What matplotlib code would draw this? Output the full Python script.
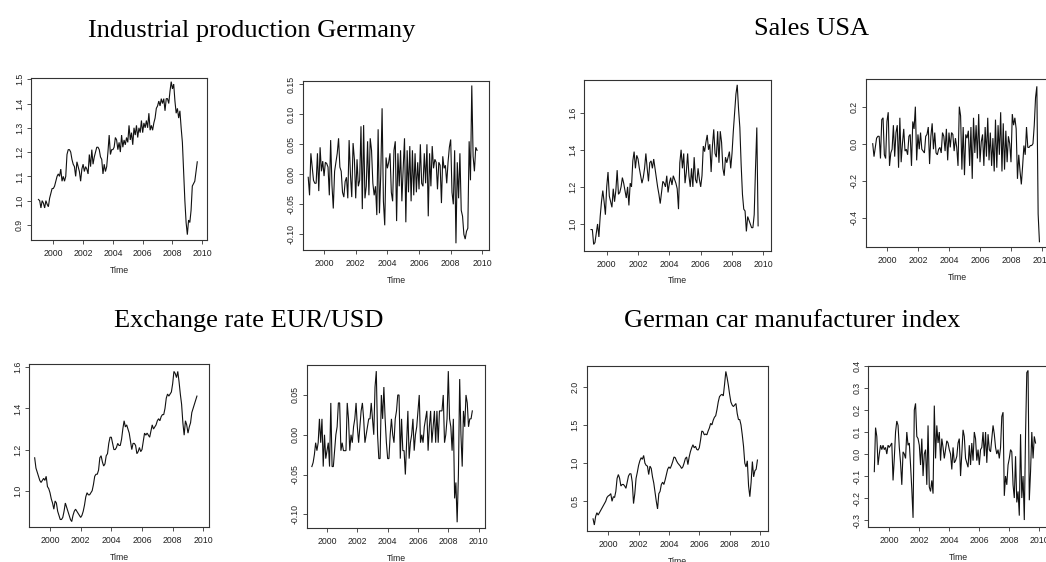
import numpy as np
import matplotlib
matplotlib.use("Agg")
import matplotlib.pyplot as plt

W, H = 1046, 562

# ---------------- data (monthly) ----------------
ip_start = 1999.0
ip_level = [
    1.005, 1.00, 0.97, 1.00, 0.99, 0.97, 1.00, 0.985, 0.975, 1.01, 1.03, 1.05,
    1.05, 1.06, 1.08, 1.10, 1.11, 1.10, 1.13, 1.08, 1.10, 1.08, 1.10, 1.19,
    1.21, 1.21, 1.20, 1.17, 1.15, 1.14, 1.10, 1.16, 1.14, 1.12, 1.08, 1.13,
    1.15, 1.12, 1.14, 1.13, 1.11, 1.19, 1.14, 1.21, 1.15, 1.18, 1.20, 1.22,
    1.22, 1.21, 1.18, 1.17, 1.11, 1.15, 1.12, 1.14, 1.20, 1.27, 1.19, 1.21,
    1.21, 1.22, 1.26, 1.25, 1.21, 1.24, 1.20, 1.27, 1.22, 1.25, 1.23, 1.26,
    1.24, 1.31, 1.25, 1.28, 1.23, 1.30, 1.27, 1.31, 1.26, 1.30, 1.28, 1.33,
    1.28, 1.32, 1.30, 1.33, 1.30, 1.36, 1.29, 1.31, 1.29, 1.32, 1.34, 1.38,
    1.39, 1.41, 1.39, 1.42, 1.40, 1.42, 1.37, 1.42, 1.42, 1.40, 1.45, 1.49,
    1.46, 1.48, 1.41, 1.36, 1.38, 1.34, 1.37, 1.30, 1.24, 1.12, 1.00, 0.91,
    0.86, 0.92, 0.91, 0.96, 1.06, 1.07, 1.08, 1.12, 1.16,
]
ip_diff_start = 1999.0
ip_diff = [
    -0.005, -0.035, 0.035, 0.012, -0.01, -0.015, -0.015, 0.035, -0.028, 0.045, 0.005, 0.022,
    -0.003, 0.02, 0.018, 0.012, -0.035, 0.057, -0.018, -0.057, 0.005, 0.02, 0.035, 0.06,
    0.012, 0.005, -0.03, -0.038, -0.012, -0.005, -0.04, 0.057, 0.0, -0.038, 0.052, 0.025,
    -0.04, 0.025, -0.02, -0.01, 0.08, -0.058, 0.082, -0.04, -0.02, 0.055, -0.035, 0.06,
    0.04, -0.015, -0.035, -0.02, -0.068, 0.075, -0.065, 0.0, 0.11, -0.045, -0.085, 0.028,
    0.01, 0.02, 0.035, -0.03, -0.045, 0.04, 0.055, -0.078, 0.035, -0.02, 0.04, -0.045,
    0.01, 0.06, -0.08, 0.04, -0.03, 0.047, -0.045, 0.04, -0.035, 0.035, -0.03, 0.02,
    -0.025, 0.05, -0.015, -0.02, 0.035, -0.015, 0.05, -0.07, 0.035, -0.02, 0.047, 0.01,
    0.025, 0.02, -0.025, 0.02, 0.015, -0.048, 0.03, 0.01, 0.015, -0.015, 0.02, 0.045,
    0.058, -0.03, -0.05, 0.04, -0.115, 0.02, -0.04, 0.035, -0.06, -0.07, -0.1, -0.108,
    -0.095, -0.09, 0.055, -0.01, 0.148, 0.03, 0.005, 0.045, 0.04,
]
sales_start = 1999.0
sales_level = [
    0.97, 0.97, 0.89, 0.90, 0.95, 1.00, 0.93, 1.04, 1.12, 1.18, 1.12, 1.05,
    1.20, 1.28, 1.15, 1.12, 1.09, 1.19, 1.12, 1.18, 1.29, 1.16, 1.17, 1.20,
    1.25, 1.22, 1.18, 1.14, 1.20, 1.10, 1.22, 1.20, 1.34, 1.39, 1.30, 1.37,
    1.35, 1.30, 1.26, 1.22, 1.25, 1.30, 1.38, 1.30, 1.23, 1.33, 1.34, 1.30,
    1.35, 1.30, 1.25, 1.20, 1.16, 1.11, 1.17, 1.23, 1.22, 1.20, 1.26, 1.17,
    1.22, 1.25, 1.21, 1.26, 1.24, 1.22, 1.19, 1.08, 1.33, 1.40, 1.30, 1.38,
    1.22, 1.28, 1.38, 1.26, 1.20, 1.30, 1.20, 1.36, 1.24, 1.22, 1.30, 1.24,
    1.20, 1.26, 1.42, 1.39, 1.44, 1.48, 1.40, 1.43, 1.28, 1.42, 1.51, 1.38,
    1.36, 1.50, 1.33, 1.50, 1.44, 1.30, 1.26, 1.36, 1.33, 1.36, 1.39, 1.30,
    1.38, 1.50, 1.60, 1.70, 1.75, 1.62, 1.52, 1.32, 1.16, 1.08, 1.07, 0.96,
    1.04, 1.02, 1.00, 0.98, 0.98, 1.05, 1.30, 1.52, 0.99,
]
sales_diff_start = 1999.083
sales_diff = [
    0.00, -0.07, -0.02, 0.03, 0.04, 0.04, -0.08, 0.13, 0.14, -0.06, -0.08, 0.12,
    0.17, -0.12, -0.05, -0.03, 0.10, -0.07, 0.06, 0.10, -0.13, 0.14, -0.10, 0.00,
    0.08, -0.04, -0.03, -0.06, 0.04, 0.05, -0.12, 0.12, 0.08, 0.20, -0.09, 0.05,
    -0.03, 0.06, -0.03, -0.04, -0.05, 0.04, 0.05, 0.09, -0.11, 0.04, 0.11, -0.03,
    0.06, -0.05, -0.06, -0.03, -0.02, -0.05, 0.06, 0.04, -0.04, 0.08, -0.09, 0.06,
    -0.02, 0.06, 0.05, -0.04, 0.03, -0.02, -0.12, 0.20, 0.15, -0.14, 0.09, -0.17,
    0.05, 0.03, 0.07, -0.12, 0.09, -0.19, 0.14, -0.05, 0.10, -0.08, 0.16, -0.10,
    0.01, 0.05, -0.12, 0.09, -0.07, 0.14, -0.09, 0.06, -0.12, 0.03, -0.15, 0.13,
    -0.13, 0.10, -0.06, 0.17, -0.15, 0.11, -0.14, 0.07, -0.10, 0.04, 0.00, -0.10,
    0.16, 0.10, 0.14, 0.08, -0.19, -0.06, -0.15, -0.22, -0.12, -0.01, -0.06, 0.09,
    -0.02, -0.02, -0.01, -0.01, 0.00, 0.10, 0.25, 0.31, -0.38, -0.53,
]
fx_start = 1999.0
fx_level = [
    1.16, 1.11, 1.09, 1.07, 1.05, 1.04, 1.05, 1.06, 1.05, 1.07, 1.02, 1.01,
    0.99, 0.96, 0.94, 0.91, 0.95, 0.94, 0.90, 0.88, 0.86, 0.86, 0.87, 0.90,
    0.94, 0.92, 0.90, 0.88, 0.86, 0.85, 0.88, 0.90, 0.91, 0.90, 0.89, 0.88,
    0.87, 0.88, 0.90, 0.93, 0.97, 0.99, 0.98, 0.98, 0.99, 1.00, 1.03, 1.07,
    1.08, 1.08, 1.10, 1.16, 1.17, 1.14, 1.12, 1.13, 1.17, 1.18, 1.23, 1.26,
    1.26, 1.23, 1.20, 1.20, 1.21, 1.23, 1.22, 1.22, 1.25, 1.30, 1.34, 1.31,
    1.32, 1.30, 1.28, 1.24, 1.20, 1.23, 1.23, 1.22, 1.18, 1.19, 1.21, 1.19,
    1.20, 1.24, 1.28, 1.27, 1.28, 1.27, 1.26, 1.29, 1.32, 1.30, 1.31, 1.32,
    1.34, 1.35, 1.34, 1.36, 1.37, 1.37, 1.40, 1.45, 1.47, 1.46, 1.47, 1.48,
    1.52, 1.58, 1.57, 1.55, 1.58, 1.53, 1.47, 1.42, 1.33, 1.27, 1.34, 1.32,
    1.28, 1.31, 1.33, 1.38, 1.40, 1.42, 1.44, 1.46,
]
fx_diff_start = 1999.0
fx_diff = [
    -0.04, -0.035, -0.025, -0.01, -0.02, -0.01, 0.02, -0.01, 0.02, -0.04, 0.0, -0.03,
    -0.02, -0.01, -0.04, 0.04, -0.04, -0.04, -0.02, 0.0, 0.01, 0.04, 0.04, -0.02,
    -0.01, -0.02, -0.02, -0.02, 0.04, 0.02, -0.02, 0.0, -0.01, 0.01, 0.02, 0.04,
    0.01, -0.01, 0.01, 0.03, 0.04, 0.02, -0.01, 0.0, 0.01, 0.02, 0.02, 0.04,
    0.02, 0.0, 0.06, 0.08, 0.0, -0.03, -0.03, 0.05, 0.02, 0.06, 0.02, -0.01,
    -0.03, -0.03, 0.0, 0.02, 0.0, -0.01, 0.02, 0.03, 0.05, 0.05, -0.03, 0.02,
    -0.02, -0.02, -0.05, -0.01, 0.03, -0.03, -0.01, 0.0, 0.02, -0.02, 0.0, 0.01,
    0.03, 0.05, -0.01, 0.0, -0.01, 0.01, 0.02, 0.03, -0.02, 0.01, 0.03, -0.01,
    0.01, 0.03, -0.01, 0.03, -0.01, 0.03, 0.03, 0.03, 0.05, -0.01, 0.0, 0.02,
    0.08, 0.02, 0.01, -0.02, 0.02, -0.08, -0.06, -0.11, -0.05, 0.07, 0.0, -0.04,
    0.03, 0.01, 0.05, 0.04, 0.01, 0.02, 0.02, 0.03,
]
car_start = 1999.0
car_level = [
    0.27, 0.19, 0.30, 0.35, 0.32, 0.35, 0.38, 0.41, 0.44, 0.47, 0.50, 0.55,
    0.57, 0.58, 0.60, 0.50, 0.56, 0.55, 0.63, 0.80, 0.85, 0.80, 0.70, 0.72,
    0.72, 0.70, 0.67, 0.75, 0.83, 0.86, 0.86, 0.75, 0.47, 0.60, 0.80, 0.88,
    0.97, 1.03, 1.07, 1.05, 1.10, 1.00, 0.97, 0.96, 0.85, 0.96, 0.93, 0.82,
    0.74, 0.62, 0.50, 0.40, 0.60, 0.63, 0.72, 0.75, 0.72, 0.78, 0.85, 0.92,
    0.95, 0.93, 0.97, 1.02, 1.08, 1.07, 1.03, 1.00, 0.98, 0.96, 0.93, 0.95,
    1.00, 1.06, 1.08, 0.98, 1.08, 1.15, 1.20, 1.24, 1.20, 1.22, 1.18, 1.17,
    1.20, 1.30, 1.42, 1.41, 1.37, 1.38, 1.37, 1.42, 1.46, 1.52, 1.50, 1.56,
    1.60, 1.62, 1.70, 1.80, 1.87, 1.89, 1.90, 1.88, 2.03, 2.20, 2.12, 2.02,
    1.90, 1.80, 1.76, 1.74, 1.76, 1.78, 1.65, 1.57, 1.57, 1.50, 1.37, 1.22,
    1.00, 0.95, 1.03, 0.70, 0.56, 0.75, 1.02, 0.82, 0.90, 0.92, 1.04,
]
car_diff_start = 1999.0
car_diff = [
    -0.08, 0.12, 0.08, -0.05, 0.00, 0.04, 0.02, 0.04, 0.02, 0.03, 0.00, 0.04,
    0.03, 0.04, 0.05, -0.12, -0.02, 0.10, 0.15, 0.13, 0.03, -0.04, -0.14, 0.01,
    0.00, -0.02, 0.10, 0.04, 0.05, -0.05, -0.16, -0.29, 0.20, 0.23, 0.08, 0.07,
    0.04, -0.05, 0.07, -0.10, 0.00, 0.02, -0.14, 0.13, -0.15, -0.17, -0.12, -0.18,
    0.22, -0.02, 0.13, 0.05, 0.10, -0.03, 0.07, 0.03, -0.02, 0.02, 0.06, 0.05,
    0.02, 0.00, -0.07, 0.03, -0.04, -0.03, -0.01, 0.05, 0.07, -0.10, 0.00, 0.11,
    0.08, -0.02, -0.04, -0.06, 0.04, -0.05, 0.05, -0.03, 0.10, 0.07, -0.03, 0.02,
    -0.05, 0.02, 0.03, 0.10, -0.01, 0.10, -0.04, 0.09, 0.02, 0.01, 0.07, 0.13,
    0.09, 0.03, 0.00, 0.02, -0.02, 0.03, 0.17, 0.19, -0.19, -0.10, -0.14, -0.05,
    -0.02, 0.02, 0.01, -0.14, -0.20, -0.01, -0.22, -0.17, -0.28, 0.09, -0.20, -0.10,
    -0.30, 0.09, 0.37, 0.38, -0.21, -0.08, 0.10, -0.02, 0.08, 0.05,
]

titles = ["Industrial production Germany", "Sales USA",
          "Exchange rate EUR/USD", "German car manufacturer index"]
xticks = [2000, 2002, 2004, 2006, 2008, 2010]

# ---------------- layout ----------------
fig = plt.figure(figsize=(W / 100, H / 100), dpi=100)
fig.patch.set_facecolor("white")

TICKFONT = dict(family=["Liberation Sans", "DejaVu Sans"], size=6.3)


def add_ax(x0, y0, x1, y1):
    return fig.add_axes([x0 / W, 1 - y1 / H, (x1 - x0) / W, (y1 - y0) / H])


panels = [
    # (box px), xlim, ylim, yticks, fmt, series, start
    ((31, 78, 207, 240), (1998.50, 2010.32), (0.838, 1.505),
     [0.9, 1.0, 1.1, 1.2, 1.3, 1.4, 1.5], "{:.1f}", ip_level, ip_start),
    ((303, 80.7, 489.3, 250.3), (1998.67, 2010.44), (-0.1267, 0.156),
     [-0.10, -0.05, 0.00, 0.05, 0.10, 0.15], "{:.2f}", ip_diff, ip_diff_start),
    ((584, 80, 770.7, 250.7), (1998.55, 2010.47), (0.856, 1.776),
     [1.0, 1.2, 1.4, 1.6], "{:.1f}", sales_level, sales_start),
    ((866, 79.3, 1049, 247.3), (1998.65, 2010.45), (-0.56, 0.348),
     [-0.4, -0.2, 0.0, 0.2], "{:.1f}", sales_diff, sales_diff_start),
    ((29, 364.3, 209.3, 527.3), (1998.63, 2010.39), (0.822, 1.6146),
     [1.0, 1.2, 1.4, 1.6], "{:.1f}", fx_level, fx_start),
    ((306.7, 365, 485.3, 528.3), (1998.66, 2010.44), (-0.1176, 0.0877),
     [-0.10, -0.05, 0.00, 0.05], "{:.2f}", fx_diff, fx_diff_start),
    ((586.7, 365.7, 768, 531), (1998.58, 2010.53), (0.111, 2.275),
     [0.5, 1.0, 1.5, 2.0], "{:.1f}", car_level, car_start),
    ((868.3, 365.7, 1048, 527.3), (1998.60, 2010.58), (-0.333, 0.4014),
     [-0.3, -0.2, -0.1, 0.0, 0.1, 0.2, 0.3, 0.4], "{:.1f}", car_diff, car_diff_start),
]

for box, xlim, ylim, yt, fmt, vals, start in panels:
    ax = add_ax(*box)
    v = np.asarray(vals, dtype=float)
    t = start + np.arange(len(v)) / 12.0
    ax.plot(t, v, color="#111111", lw=0.8, solid_joinstyle="miter")
    ax.set_xlim(*xlim)
    ax.set_ylim(*ylim)
    ax.set_xticks(xticks)
    ax.set_xticklabels([str(x) for x in xticks], fontdict=TICKFONT)
    ax.set_yticks(yt)
    labels = []
    for y in yt:
        s = fmt.format(y)
        if abs(y) < 1e-9:
            s = s.replace("-", "")
        labels.append(s)
    ax.set_yticklabels(labels, fontdict=TICKFONT, rotation=90, va="center")
    ax.tick_params(axis="both", direction="out", length=3.0, width=0.6,
                   color="#333333", labelcolor="#222222")
    ax.tick_params(axis="x", pad=3.5)
    ax.tick_params(axis="y", pad=2.0)
    for s in ax.spines.values():
        s.set_linewidth(0.8)
        s.set_color("#333333")
    ax.set_xlabel("Time", fontdict=TICKFONT, labelpad=5.5, color="#222222")

TITLEFONT = dict(family=["Liberation Serif", "DejaVu Serif"], size=19)
fig.text(251.5 / W, 1 - 37 / H, titles[0], ha="center", va="baseline", **TITLEFONT)
fig.text(811 / W, 1 - 35 / H, titles[1], ha="center", va="baseline", **TITLEFONT)
fig.text(249 / W, 1 - 327 / H, titles[2], ha="center", va="baseline", **TITLEFONT)
fig.text(792 / W, 1 - 327 / H, titles[3], ha="center", va="baseline", **TITLEFONT)

fig.savefig("out.png", dpi=100)
